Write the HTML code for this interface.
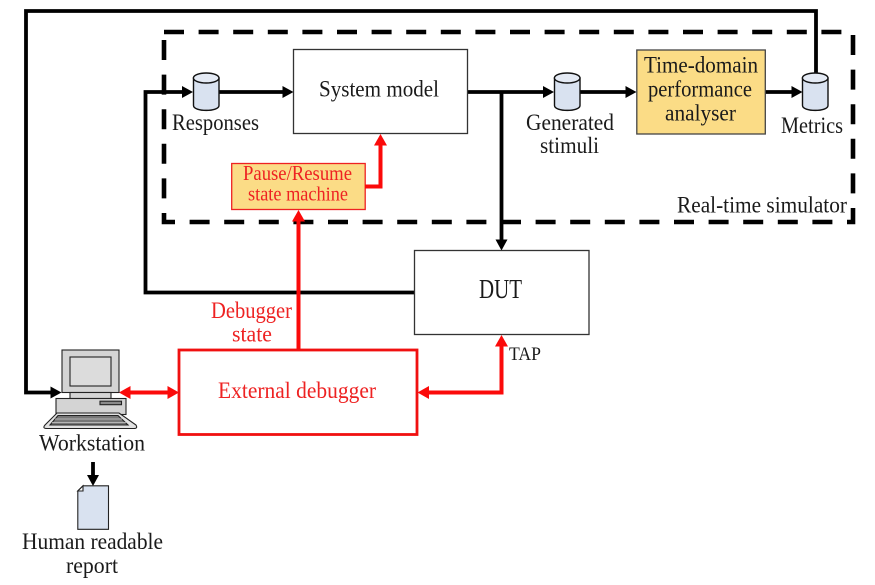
<!DOCTYPE html>
<html><head><meta charset="utf-8"><style>
html,body{margin:0;padding:0;background:#fff;width:875px;height:585px;overflow:hidden}
svg{display:block}
text{font-family:"Liberation Serif",serif;font-size:23px;fill:#1a1a1a}
.r{fill:#ee2222}
</style></head><body>
<svg width="875" height="585" viewBox="0 0 875 585" xmlns="http://www.w3.org/2000/svg">
<rect width="875" height="585" fill="#fff"/>
<!-- dashed frame -->
<path d="M164 32H853" fill="none" stroke="#000" stroke-width="4.6" stroke-dasharray="20 14.6"/>
<path d="M853 35V222H164V32" fill="none" stroke="#000" stroke-width="4.6" stroke-dasharray="20 14.6"/>
<!-- black wires -->
<g fill="none" stroke="#000" stroke-width="3.8">
<path d="M816 75V11H26V392.5H52"/>
<path d="M414 292.5H145.500V92H183"/>
<path d="M219 92H284"/>
<path d="M467 92H545"/>
<path d="M501.500 92V241"/>
<path d="M580 92H627"/>
<path d="M765 92H793"/>
<path d="M93 462V477"/>
</g>
<g fill="#000">
<path d="M193 92l-11-6v12z"/>
<path d="M293.500 92l-11-6v12z"/>
<path d="M554 92l-11-6v12z"/>
<path d="M636.500 92l-11-6v12z"/>
<path d="M802.500 92l-11-6v12z"/>
<path d="M501.500 250.500l-6-11h12z"/>
<path d="M61.500 392.500l-11-6v12z"/>
<path d="M93 486l-6-11h12z"/>
</g>
<!-- boxes -->
<rect x="293.500" y="49.500" width="174" height="84" fill="#fff" stroke="#333" stroke-width="1.300"/>
<rect x="414.500" y="250.500" width="174.500" height="84" fill="#fff" stroke="#333" stroke-width="1.300"/>
<rect x="636.800" y="50" width="128.500" height="84" fill="#fbdc86" stroke="#444" stroke-width="1.300"/>
<rect x="231.700" y="163.500" width="133.500" height="46" fill="#fbdc86" stroke="#ee2222" stroke-width="1.300"/>
<!-- red wires -->
<g fill="none" stroke="#fb0a0a" stroke-width="4">
<path d="M365 186.500H380.500V143"/>
<path d="M298.500 350V219"/>
<path d="M427 392.500H501.500V344"/>
<path d="M129 392.500H169"/>
</g>
<g fill="#fb0a0a">
<path d="M380.500 134l-6.500 11.500h13z"/>
<path d="M298.500 210l-6.500 11.500h13z"/>
<path d="M501.500 335l-6.500 11.500h13z"/>
<path d="M417.500 392.500l11.500-6.500v13z"/>
<path d="M119 392.500l11.500-6.500v13z"/>
<path d="M179 392.500l-11.500-6.500v13z"/>
</g>
<rect x="179" y="350" width="238" height="84.500" fill="none" stroke="#f01010" stroke-width="2.800"/>
<!-- cylinders -->
<g fill="#d9e2f0" stroke="#111" stroke-width="1.400">
<path d="M193.500 78V105.500C193.500 112 219 112 219 105.500V78z"/>
<ellipse cx="206.200" cy="78" rx="12.800" ry="5" fill="#e4eaf4"/>
<path d="M554.500 78V105.500C554.500 112 580 112 580 105.500V78z"/>
<ellipse cx="567.200" cy="78" rx="12.800" ry="5" fill="#e4eaf4"/>
<path d="M802.500 78V105.500C802.500 112 828 112 828 105.500V78z"/>
<ellipse cx="815.200" cy="78" rx="12.800" ry="5" fill="#e4eaf4"/>
</g>
<!-- workstation -->
<g stroke="#222" stroke-width="1.100">
<rect x="62" y="350" width="57" height="42.500" fill="#d4d4d4"/>
<rect x="70" y="357" width="41" height="29" fill="#dcdcdc"/>
<rect x="70" y="392.500" width="41" height="6" fill="#d4d4d4"/>
<rect x="56" y="398.500" width="70" height="16" fill="#d4d4d4"/>
<rect x="100" y="401.200" width="21.500" height="3.500" fill="#8a8a8a"/>
<path d="M57 413H119L136 425Q138 428.500 134 428.500H47Q42 428.500 45 425Z" fill="#e2e2e2"/>
<path d="M58 415.500H118L128 425H50Z" fill="#777"/>
<path d="M55 419H122M52 422.500H126" stroke="#ccc" stroke-width="0.800" fill="none"/>
</g>
<!-- document -->
<path d="M83 485.800H108.500V529.300H77.800V491Z" fill="#d9e2f0" stroke="#222" stroke-width="1.100"/>
<path d="M83 485.800V491H77.800Z" fill="#fff" stroke="#222" stroke-width="1.100"/>
<!-- labels -->
<text x="172" y="130" textLength="87" lengthAdjust="spacingAndGlyphs">Responses</text>
<text x="319" y="96.500" textLength="120" lengthAdjust="spacingAndGlyphs">System model</text>
<text class="r" x="243" y="180" style="font-size:21px" textLength="109" lengthAdjust="spacingAndGlyphs">Pause/Resume</text>
<text class="r" x="248" y="200.500" style="font-size:20px" textLength="100" lengthAdjust="spacingAndGlyphs">state machine</text>
<text x="526" y="130" textLength="88" lengthAdjust="spacingAndGlyphs">Generated</text>
<text x="540" y="153" textLength="59" lengthAdjust="spacingAndGlyphs">stimuli</text>
<text x="644" y="72.500" textLength="114" lengthAdjust="spacingAndGlyphs">Time-domain</text>
<text x="648" y="96.500" textLength="104" lengthAdjust="spacingAndGlyphs">performance</text>
<text x="665" y="120.500" textLength="71" lengthAdjust="spacingAndGlyphs">analyser</text>
<text x="781" y="133" textLength="62" lengthAdjust="spacingAndGlyphs">Metrics</text>
<text x="677" y="212.500" textLength="170" lengthAdjust="spacingAndGlyphs">Real-time simulator</text>
<text x="479" y="298" style="font-size:27px" textLength="43" lengthAdjust="spacingAndGlyphs">DUT</text>
<text x="509" y="360" style="font-size:19px" textLength="32" lengthAdjust="spacingAndGlyphs">TAP</text>
<text class="r" x="211" y="318" textLength="81" lengthAdjust="spacingAndGlyphs">Debugger</text>
<text class="r" x="232" y="341.500" textLength="40" lengthAdjust="spacingAndGlyphs">state</text>
<text class="r" x="218" y="398" textLength="158" lengthAdjust="spacingAndGlyphs">External debugger</text>
<text x="39" y="450.500" textLength="106" lengthAdjust="spacingAndGlyphs">Workstation</text>
<text x="22" y="549" textLength="141" lengthAdjust="spacingAndGlyphs">Human readable</text>
<text x="66" y="573" textLength="52" lengthAdjust="spacingAndGlyphs">report</text>
</svg>
</body></html>
